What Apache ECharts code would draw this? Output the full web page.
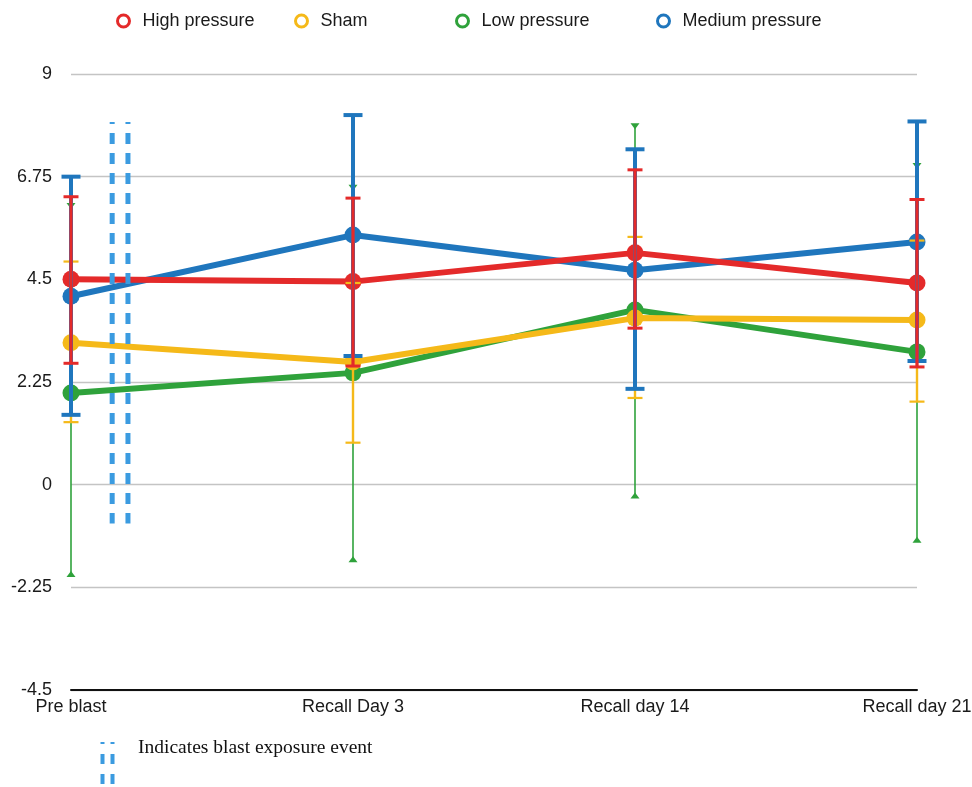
<!DOCTYPE html>
<html>
<head>
<meta charset="utf-8">
<style>
  html, body { margin: 0; padding: 0; background: #fff; }
  #chart { width: 972px; height: 787px; }
</style>
<script src="https://cdn.jsdelivr.net/npm/echarts@6/dist/echarts.min.js"></script>
</head>
<body>
<div id="chart"></div>
<script>
// ---- data ----
const categories = ['Pre blast', 'Recall Day 3', 'Recall day 14', 'Recall day 21'];
const yTicks = { min: -4.5, max: 9, interval: 2.25 };

const highMean  = [4.50, 4.45, 5.08, 4.42];
const highLow   = [2.66, 2.60, 3.43, 2.58];
const highHigh  = [6.31, 6.28, 6.90, 6.25];

const shamMean  = [3.11, 2.69, 3.65, 3.61];
const shamLow   = [1.37, 0.92, 1.90, 1.82];
const shamHigh  = [4.89, 4.42, 5.43, 5.35];

const lowMean   = [2.01, 2.45, 3.83, 2.91];
const lowLow    = [-2.00, -1.68, -0.28, -1.25];
const lowHigh   = [6.15, 6.55, 7.90, 7.03];

const medMean   = [4.13, 5.47, 4.70, 5.32];
const medLow    = [1.53, 2.82, 2.10, 2.71];
const medHigh   = [6.75, 8.10, 7.35, 7.96];

// blast exposure event marker (position on a 0..3 category span, and y extent)
const blastX = [0.146, 0.202];
const blastY = [-0.85, 7.95];

const seriesNames = ['High pressure', 'Sham', 'Low pressure', 'Medium pressure'];
const colors = {
  'High pressure': '#e42a2a',
  'Sham': '#f5b919',
  'Low pressure': '#2fa23b',
  'Medium pressure': '#1f76bd'
};
const blastColor = '#3b9be0';

function pack(lo, hi) { return lo.map((v, i) => [i, v, hi[i]]); }

function errorBar(color, lw, capW, capLw, triangles) {
  return function (params, api) {
    const i = api.value(0);
    const top = api.coord([i, api.value(2)]);
    const bot = api.coord([i, api.value(1)]);
    const x = top[0];
    const children = [{
      type: 'line',
      shape: { x1: x, y1: top[1], x2: x, y2: bot[1] },
      style: { stroke: color, lineWidth: lw }
    }];
    if (triangles) {
      children.push({
        type: 'polygon',
        shape: { points: [[x - 4.5, top[1] - 1], [x + 4.5, top[1] - 1], [x, top[1] + 5]] },
        style: { fill: color }
      });
      children.push({
        type: 'polygon',
        shape: { points: [[x - 4.5, bot[1] + 1], [x + 4.5, bot[1] + 1], [x, bot[1] - 5]] },
        style: { fill: color }
      });
    } else {
      [top[1], bot[1]].forEach(y => {
        children.push({
          type: 'line',
          shape: { x1: x - capW / 2, y1: y, x2: x + capW / 2, y2: y },
          style: { stroke: color, lineWidth: capLw }
        });
      });
    }
    return { type: 'group', children };
  };
}

function lineSeries(name, data, z) {
  return {
    name, type: 'line', data,
    z,
    symbol: 'circle', symbolSize: 17,
    lineStyle: { width: 6, color: colors[name] },
    itemStyle: { color: colors[name] },
    emphasis: { disabled: true },
    animation: false
  };
}

function errSeries(name, lo, hi, z, lw, capW, capLw, tri) {
  return {
    name: name + ' error', type: 'custom', z,
    data: pack(lo, hi),
    encode: { x: 0, y: [1, 2] },
    renderItem: errorBar(colors[name], lw, capW, capLw, tri),
    animation: false, silent: true
  };
}

const legendPos = [111, 289, 450, 651];

const chart = echarts.init(document.getElementById('chart'));
chart.setOption({
  backgroundColor: '#fff',
  animation: false,
  textStyle: { fontFamily: 'Liberation Sans, Arial, sans-serif' },
  legend: seriesNames.map((n, k) => ({
    data: [n],
    left: legendPos[k], top: 7,
    icon: 'circle',
    itemWidth: 28, itemHeight: 12,
    itemStyle: { color: '#fff', borderColor: colors[n], borderWidth: 3 },
    textStyle: { fontSize: 18, color: '#1a1a1a', fontFamily: 'Liberation Sans, Arial, sans-serif' },
    selectedMode: false
  })),
  grid: { left: 71, right: 55, top: 74, bottom: 97, containLabel: false, outerBoundsMode: 'none' },
  xAxis: [{
    type: 'category', data: categories, boundaryGap: false,
    axisLine: { onZero: false, lineStyle: { color: '#111', width: 2 } },
    axisTick: { show: false },
    axisLabel: { color: '#1a1a1a', fontSize: 18, margin: 8, interval: 0 },
    splitLine: { show: false }
  }, {
    type: 'value', min: 0, max: 3, show: false
  }],
  yAxis: {
    type: 'value', min: yTicks.min, max: yTicks.max, interval: yTicks.interval,
    axisLine: { show: false }, axisTick: { show: false },
    axisLabel: { color: '#1a1a1a', fontSize: 18, margin: 19 },
    splitLine: { lineStyle: { color: '#c4c4c4', width: 1.3 } }
  },
  graphic: [
    { type: 'line', shape: { x1: 102.5, y1: 742, x2: 102.5, y2: 784 },
      style: { stroke: blastColor, lineWidth: 4, lineDash: [10, 10], lineDashOffset: 8 } },
    { type: 'line', shape: { x1: 112.5, y1: 742, x2: 112.5, y2: 784 },
      style: { stroke: blastColor, lineWidth: 4, lineDash: [10, 10], lineDashOffset: 8 } },
    { type: 'text', left: 138, top: 738,
      style: { text: 'Indicates blast exposure event', font: '19.5px "Liberation Serif", "Times New Roman", serif', fill: '#111' } }
  ],
  series: [
    lineSeries('Medium pressure', medMean, 2),
    lineSeries('Low pressure', lowMean, 3),
    lineSeries('Sham', shamMean, 4),
    lineSeries('High pressure', highMean, 5),
    errSeries('Low pressure', lowLow, lowHigh, 6, 1.6, 0, 0, true),
    errSeries('Sham', shamLow, shamHigh, 7, 2.4, 15, 2.2, false),
    errSeries('Medium pressure', medLow, medHigh, 8, 4, 19, 4, false),
    errSeries('High pressure', highLow, highHigh, 9, 3.2, 15, 3, false),
    ...blastX.map((bx, k) => ({
      name: 'blast' + k, type: 'line', xAxisIndex: 1, z: 10,
      data: [[bx, blastY[1]], [bx, blastY[0]]],
      symbol: 'none',
      lineStyle: { color: blastColor, width: 5, type: [11, 9], dashOffset: 9 },
      silent: true, animation: false
    }))
  ]
});
</script>
</body>
</html>
